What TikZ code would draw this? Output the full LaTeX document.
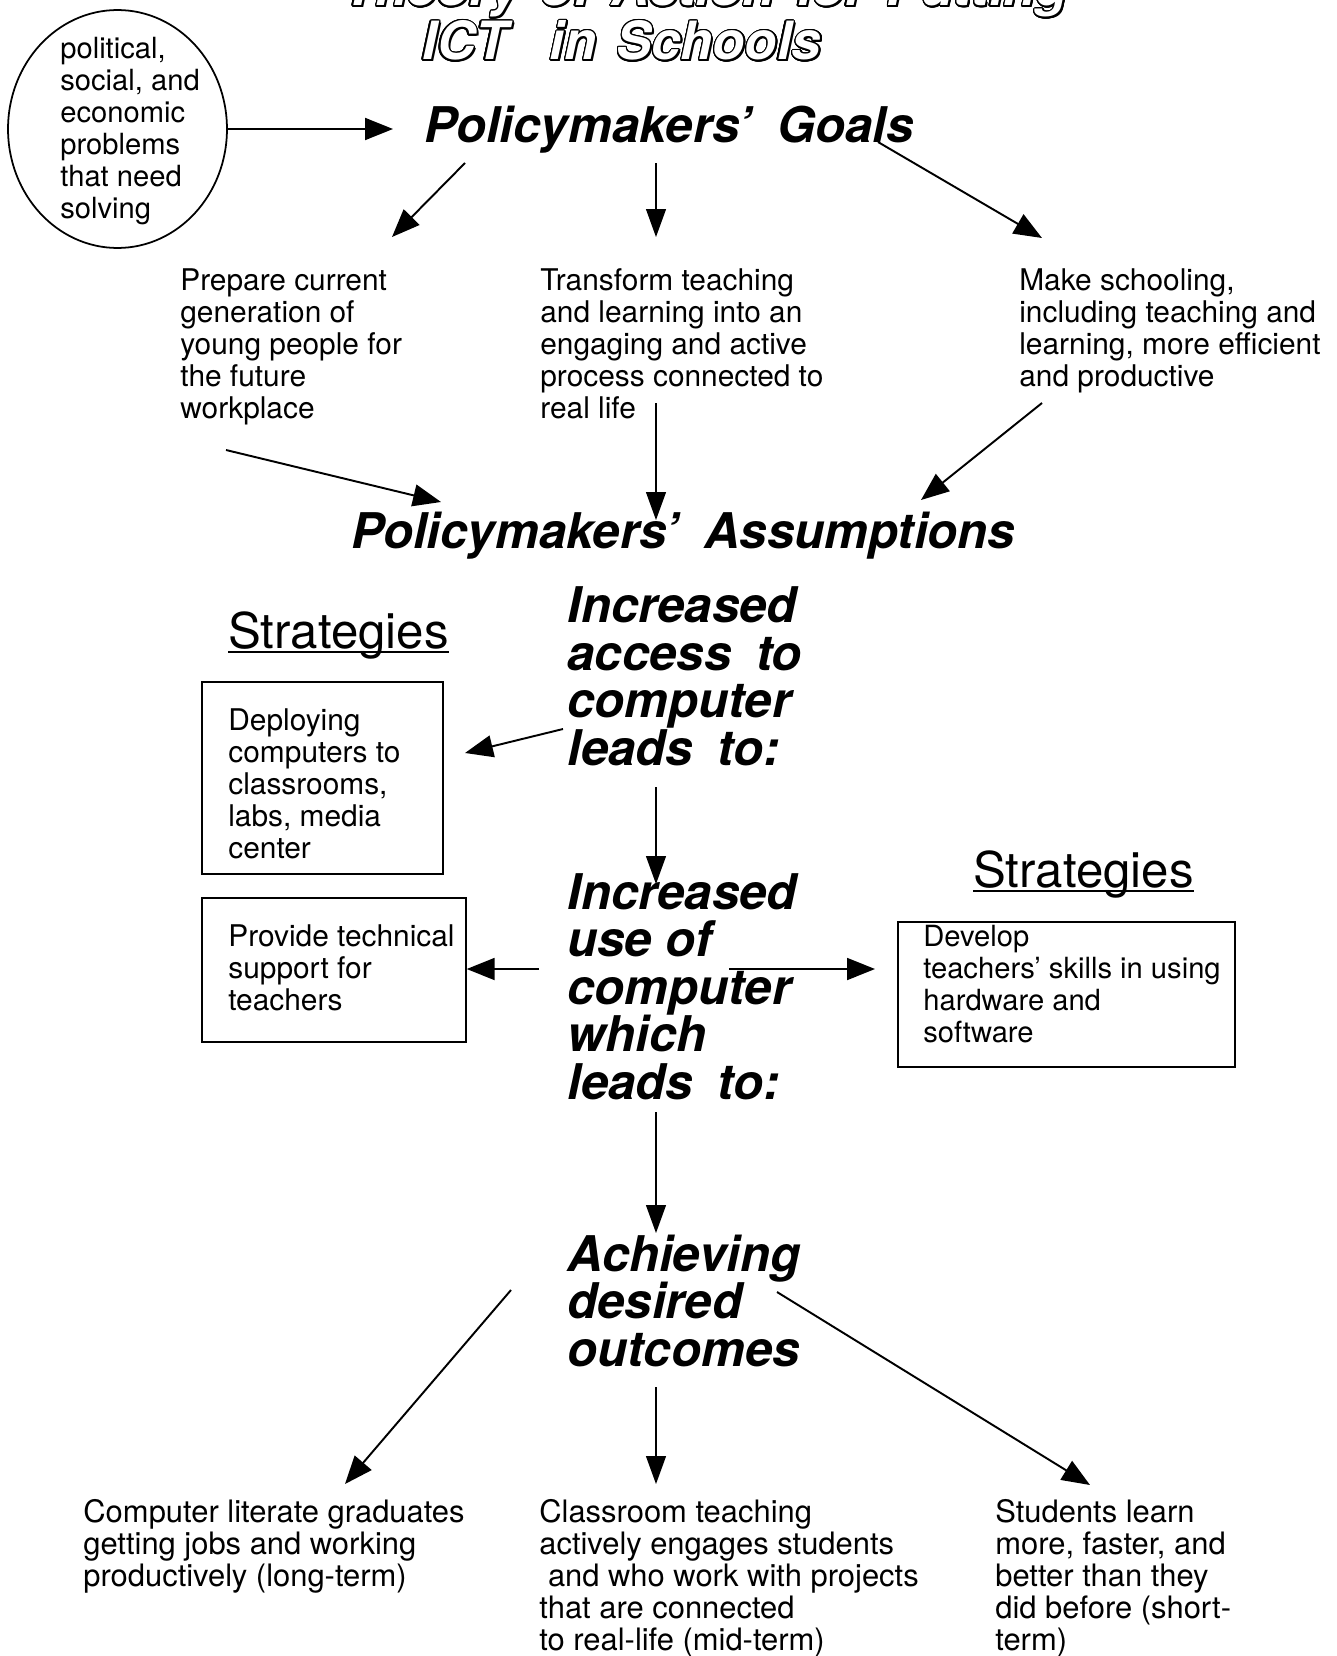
\documentclass[tikz,border=0pt]{standalone}
\usepackage{fontspec}
\setmainfont{TeX Gyre Heros}
\usepackage[copies]{contour}
\contourlength{0.8pt}
\contournumber{24}
\usetikzlibrary{arrows.meta,shapes.geometric,positioning,calc}

\tikzset{
  txt/.style={anchor=base west, inner sep=0pt, align=left, font=\fontsize{17}{18.2}\selectfont},
  bigtxt/.style={txt, font=\fontsize{17.6}{18.2}\selectfont},
  headline/.style={anchor=base west, inner sep=0pt, align=left, font=\fontsize{28}{27}\selectfont\bfseries\itshape},
  strat/.style={anchor=base west, inner sep=0pt, font=\fontsize{28}{30}\selectfont},
  ttl/.style={anchor=base west, inner sep=0pt, font=\fontsize{30}{32}\selectfont\bfseries\itshape},
  box/.style={draw, line width=1pt, rectangle, anchor=north west, inner sep=0pt},
  arr/.style={-{Triangle[length=0.56cm,width=0.44cm]}, line width=1.1pt},
  thinarr/.style={-{Triangle[length=0.56cm,width=0.4cm]}, line width=0.7pt},
}

\begin{document}
\begin{tikzpicture}[x=0.02cm,y=-0.02cm]
\useasboundingbox (0,0) rectangle (1337,1656);

% title (top line cut by the page)
\node[ttl, text=black] (ttlAs) at (345,8) {Theory\hspace{.4em}of\hspace{.4em}Action\hspace{.4em}for\hspace{.4em}Putting};
\node[ttl, text=white] (ttlA) at (343,6) {\contour{black}{Theory\hspace{.4em}of\hspace{.4em}Action\hspace{.4em}for\hspace{.4em}Putting}};
\node[ttl, text=black] (ttlBs) at (424,62) {ICT\hspace{0.85cm}in\hspace{0.4cm}Schools};
\node[ttl, text=white] (ttlB) at (422,60) {\contour{black}{ICT\hspace{0.85cm}in\hspace{0.4cm}Schools}};

% problems (multi-line nodes sit on their last line)
\node[draw, ellipse, line width=1pt, minimum width=4.38cm, minimum height=4.76cm, inner sep=0pt] (ell) at (117.5,129) {};
\node[txt, font=\fontsize{16.6}{18.2}\selectfont] (probs) at (60,218) {political,\\social, and\\economic\\problems\\that need\\solving};

% goals
\node[headline] (goals) at (424,142) {Policymakers’\hspace{.5em}Goals};
\node[txt] (prep) at (180,418) {Prepare current\\generation of\\young people for\\the future\\workplace};
\node[txt] (transf) at (540,418) {Transform teaching\\and learning into an\\engaging and active\\process connected to\\real life};
\node[txt] (effic) at (1019,386) {Make schooling,\\including teaching and\\learning, more efficient\\and productive};

\node[headline] (assum) at (351,548) {Policymakers’\hspace{.5em}Assumptions};

% strategies left
\node[strat] (stratL) at (228,648) {Strategies};
\draw[line width=1pt] ($(stratL.base west)+(0,4)$) -- ($(stratL.base east)+(0,4)$);
\node[box, minimum width=4.82cm, minimum height=3.84cm] (box1) at (201,681) {};
\node[txt] (deploy) at (228,858) {Deploying\\computers to\\classrooms,\\labs, media\\center};
\node[box, minimum width=5.28cm, minimum height=2.88cm] (box2) at (201,897) {};
\node[txt] (support) at (228,1010) {Provide technical\\support for\\teachers};

% assumptions chain
\node[headline] (access) at (567,765) {Increased\\access\hspace{.5em}to\\computer\\leads\hspace{.5em}to:};
\node[headline] (use) at (567,1099) {Increased\\use of\\computer\\which\\leads\hspace{.5em}to:};
\node[headline] (achieve) at (567,1366) {Achieving\\desired\\outcomes};

% strategies right
\node[strat] (stratR) at (973,887) {Strategies};
\draw[line width=1pt] ($(stratR.base west)+(0,4)$) -- ($(stratR.base east)+(0,4)$);
\node[box, minimum width=6.74cm, minimum height=2.9cm] (box3) at (897,921) {};
\node[txt, font=\fontsize{16.6}{18.2}\selectfont] (skills) at (923,1042) {Develop\\teachers’ skills in using\\hardware and\\software};

% outcomes
\node[bigtxt] (jobs) at (83,1586) {Computer literate graduates\\getting jobs and working\\productively (long-term)};
\node[bigtxt] (engage) at (539,1650) {Classroom teaching\\actively engages students\\\hspace*{.28em}and who work with projects\\that are connected\\to real-life (mid-term)};
\node[bigtxt] (faster) at (995,1650) {Students learn\\more, faster, and\\better than they\\did before (short-\\term)};

% arrow ends
\coordinate (g1) at (465,163); \coordinate (p1) at (392,237);
\coordinate (g2) at (656,163); \coordinate (t1) at (656,237);
\coordinate (g3) at (878,142); \coordinate (e1) at (1042,238);
\coordinate (p2) at (226,450); \coordinate (a1) at (441,502);
\coordinate (t2) at (656,403); \coordinate (a2) at (656,520);
\coordinate (e2) at (1042,403); \coordinate (a3) at (921,500);
\coordinate (c1) at (563,729); \coordinate (d1) at (465,753);
\coordinate (c2) at (656,787); \coordinate (u1) at (656,884);
\coordinate (u2) at (539,969);
\coordinate (u3) at (729,969); \coordinate (s1) at (875,969);
\coordinate (u4) at (656,1112); \coordinate (h1) at (656,1233);
\coordinate (h2) at (511,1290); \coordinate (o1) at (345,1484);
\coordinate (h3) at (656,1387); \coordinate (o2) at (656,1484);
\coordinate (h4) at (777,1292); \coordinate (o3) at (1090,1485);

\draw[arr, shorten >=0.62cm] (ell.east) -- (ell.east -| goals.west);
\draw[arr] (g1) -- (p1);
\draw[thinarr] (g2) -- (t1);
\draw[arr] (g3) -- (e1);
\draw[arr] (p2) -- (a1);
\draw[thinarr] (t2) -- (a2);
\draw[arr] (e2) -- (a3);
\draw[arr] (c1) -- (d1);
\draw[thinarr] (c2) -- (u1);
\draw[arr] (u2) -- (u2 -| box2.east);
\draw[arr] (u3) -- (s1);
\draw[thinarr] (u4) -- (h1);
\draw[arr] (h2) -- (o1);
\draw[thinarr] (h3) -- (o2);
\draw[arr] (h4) -- (o3);

\end{tikzpicture}
\end{document}
